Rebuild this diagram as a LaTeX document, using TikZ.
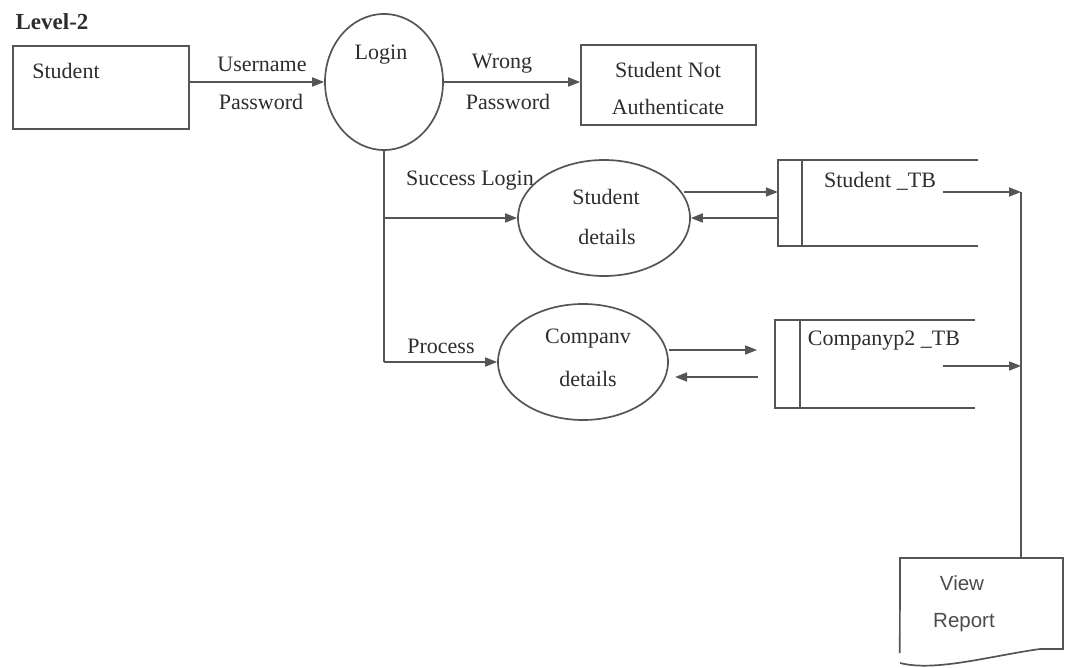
\documentclass[tikz,border=0pt]{standalone}
\usepackage{fontspec}
\setmainfont{Liberation Serif}
\newfontfamily\reportfont{Liberation Sans}
\usetikzlibrary{arrows.meta,shapes.geometric}
\definecolor{linec}{RGB}{85,85,85}
\definecolor{textc}{RGB}{45,45,45}
\tikzset{
  lbl/.style={inner sep=0pt, text=textc, font=\fontsize{22}{26}\selectfont},
  rlbl/.style={inner sep=0pt, text=textc!85, font=\reportfont\fontsize{20.5}{24}\selectfont},
  ln/.style={draw=linec, line width=1.7pt},
  arr/.style={ln, -{Triangle[length=12pt,width=9pt]}},
  extbox/.style={ln, rectangle, inner sep=0pt},
  proc/.style={ln, ellipse, inner sep=0pt},
  holder/.style={rectangle, inner sep=0pt}
}
\begin{document}
\begin{tikzpicture}[x=1pt,y=-1pt]
\useasboundingbox (0,0) rectangle (1079,668);
% title
\node[lbl, font=\bfseries\fontsize{23}{27}\selectfont] (title) at (52,22) {Level-2};
% external entities
\node[extbox, minimum width=176pt, minimum height=83pt] (student) at (101,87.5) {};
\node[lbl] (studentT) at (66,71) {Student};
\node[extbox, minimum width=175pt, minimum height=80pt] (notauth) at (668.5,85) {};
\node[lbl] (na1) at (668,70) {Student Not};
\node[lbl] (na2) at (668,107) {Authenticate};
% processes
\node[proc, minimum width=118pt, minimum height=136pt] (login) at (384,82) {};
\node[lbl] (loginT) at (381,55) {Login};
\node[proc, minimum width=172pt, minimum height=116pt] (sd) at (604,218) {};
\node[lbl] (sd1) at (606,197) {Student};
\node[lbl] (sd2) at (607,237) {details};
\node[proc, minimum width=170pt, minimum height=116pt] (cd) at (583,362) {};
\node[lbl] (cd1) at (588,339) {Companv};
\node[lbl] (cd2) at (588,379) {details};
% data stores
\node[holder, minimum width=200pt, minimum height=86pt] (stS) at (878,203) {};
\draw[ln] (stS.north east) -- (stS.north west) -- (stS.south west) -- (stS.south east);
\draw[ln] ([xshift=24pt]stS.north west) -- ([xshift=24pt]stS.south west);
\node[lbl] (stST) at (880,181) {Student \_TB};
\node[holder, minimum width=200pt, minimum height=88pt] (stC) at (875,364) {};
\draw[ln] (stC.north east) -- (stC.north west) -- (stC.south west) -- (stC.south east);
\draw[ln] ([xshift=25pt]stC.north west) -- ([xshift=25pt]stC.south west);
\node[lbl] (stCT) at (884,341) {Companyp2 \_TB};
% report
\node[holder, minimum width=163pt, minimum height=95pt] (report) at (981.5,605.5) {};
\draw[ln] (report.south west) -- (900,558) -- (1063,558) -- (1063,649) -- (1040,649)
  .. controls (990,656) and (935,672) .. (900,663);
\node[rlbl] (rep1) at (962,583) {View};
\node[rlbl] (rep2) at (964,623) {Report};
% connectors
\draw[arr] (student.east |- login.west) -- (login.west);
\node[lbl] (u1) at (262,64) {Username};
\node[lbl] (u2) at (261,102) {Password};
\draw[arr] (login.east) -- (login.east -| notauth.west);
\node[lbl] (w1) at (502,64) {Wrong};
\node[lbl] (w2) at (508,102) {Password};
\coordinate (j1) at (login.south |- sd.west);
\coordinate (j2) at (login.south |- cd.west);
\draw[ln] (login.south) -- (j2);
\draw[arr] (j1) -- (sd.west);
\node[lbl] (succ) at (470,181) {Success Login};
\draw[arr] (j2) -- (cd.west);
\node[lbl] (proc) at (441,346) {Process};
% student store flows
\coordinate (s1) at (684,192);
\draw[arr] (s1) -- (s1 -| stS.west);
\draw[arr] (stS.west |- sd.east) -- (sd.east);
% company store flows
\coordinate (c1) at (757,350);
\coordinate (c2) at (758,377);
\coordinate (c3) at (675,377);
\draw[arr] (cd.east |- c1) -- (c1);
\draw[arr] (c2) -- (c3);
% outputs to report
\coordinate (o1s) at (943,192);
\coordinate (o1e) at (1021,192);
\coordinate (o2s) at (943,366);
\coordinate (o2e) at (1021,366);
\draw[arr] (o1s) -- (o1e);
\draw[arr] (o2s) -- (o2e);
\draw[ln] (o1e) -- (o1e |- report.north);
\end{tikzpicture}
\end{document}
